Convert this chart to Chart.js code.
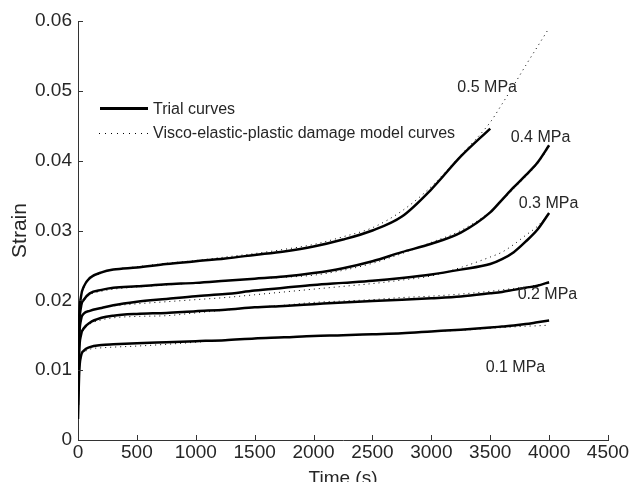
<!DOCTYPE html>
<html lang="en">
<head>
    <meta charset="UTF-8">
    <title>Creep strain curves</title>
    <script src="https://cdn.jsdelivr.net/npm/chart.js"></script>
    <style>
        body { margin: 0; background: #fff; }
        canvas { display: block; }
    </style>
</head>
<body>
    <canvas id="strainChart" width="632" height="482"></canvas>

    <script>
        // time grid (s) shared by all curves
        const timeGrid = [0, 10, 25, 50, 100, 200, 300, 500, 750, 1000, 1250, 1500, 1750, 2000,
                          2250, 2500, 2750, 3000, 3250, 3500, 3600, 3700, 3800, 3900, 4000];

        // trial curves (solid)
        const trial01 = [0.003, 0.0095, 0.0120, 0.0128, 0.0133, 0.0136, 0.0137, 0.01385, 0.0140, 0.01415, 0.0143, 0.01455, 0.0147,
                         0.0149, 0.0150, 0.01515, 0.0153, 0.01555, 0.0158, 0.0161, 0.01625, 0.0164, 0.0166, 0.01685, 0.0171];
        const trial02 = [0.005, 0.0125, 0.0150, 0.0160, 0.0168, 0.0175, 0.0178, 0.01805, 0.0182, 0.01845, 0.01865, 0.0190, 0.0192,
                         0.01945, 0.0197, 0.0199, 0.0201, 0.0203, 0.02055, 0.0210, 0.0212, 0.0215, 0.0218, 0.0221, 0.0226];
        const trial03 = [0.007, 0.0145, 0.0172, 0.0181, 0.0185, 0.0189, 0.0193, 0.0198, 0.0202, 0.0206, 0.0209, 0.0214, 0.0218,
                         0.0222, 0.0225, 0.0228, 0.0232, 0.0237, 0.0244, 0.0252, 0.0259, 0.0269, 0.0284, 0.0301, 0.0325];
        const trial04 = [0.008, 0.0160, 0.0190, 0.0201, 0.0210, 0.0215, 0.0218, 0.0220, 0.0223, 0.0225, 0.0228, 0.0231, 0.0234,
                         0.0239, 0.0246, 0.0256, 0.0269, 0.0281, 0.0297, 0.0326, 0.0344, 0.0362, 0.0379, 0.0397, 0.0422];
        const trial05 = [0.009, 0.0175, 0.0205, 0.0220, 0.0232, 0.0240, 0.0244, 0.0247, 0.0252, 0.0256, 0.0260, 0.0265, 0.0270,
                         0.0277, 0.0287, 0.0300, 0.0320, 0.0359, 0.0406, 0.0446];

        // visco-elastic-plastic damage model curves (dotted)
        const model01 = [0.003, 0.0095, 0.0118, 0.0125, 0.0130, 0.0132, 0.0133, 0.01345, 0.0137, 0.0140, 0.0143, 0.01455, 0.0147,
                         0.0149, 0.0150, 0.01515, 0.0153, 0.01555, 0.0157, 0.0160, 0.0161, 0.0162, 0.0163, 0.01635, 0.01645];
        const model02 = [0.005, 0.0125, 0.0148, 0.0158, 0.0166, 0.0172, 0.0175, 0.0177, 0.0178, 0.0182, 0.0186, 0.0190, 0.0193,
                         0.0197, 0.0199, 0.0201, 0.0204, 0.0206, 0.0209, 0.0213, 0.0215, 0.0217, 0.0219, 0.0222, 0.0225];
        const model03 = [0.007, 0.0145, 0.0170, 0.0180, 0.0185, 0.0189, 0.0192, 0.0195, 0.0198, 0.0201, 0.0204, 0.0208, 0.0212,
                         0.0216, 0.0220, 0.0224, 0.0229, 0.0235, 0.0247, 0.0262, 0.0269, 0.0280, 0.0293, 0.0306, 0.0325];
        const model04 = [0.008, 0.0158, 0.0188, 0.0199, 0.0208, 0.0213, 0.0216, 0.0219, 0.0222, 0.0225, 0.0228, 0.0231, 0.0233,
                         0.0236, 0.0243, 0.0253, 0.0267, 0.0283, 0.0300, 0.0327, 0.0343, 0.0360, 0.0377, 0.0395, 0.0420];
        const model05 = [0.009, 0.0175, 0.0203, 0.0218, 0.0230, 0.0239, 0.0244, 0.0248, 0.0253, 0.0257, 0.0262, 0.0267, 0.0273,
                         0.0280, 0.0291, 0.0304, 0.0328, 0.0363, 0.0408, 0.0455, 0.0481, 0.0508, 0.0536, 0.0563, 0.0590];

        // stress level labels, anchored in data coordinates
        const stressLabels = ['0.5 MPa', '0.4 MPa', '0.3 MPa', '0.2 MPa', '0.1 MPa'];
        const stressLabelX = [3474, 3927, 3995, 3986, 3714];
        const stressLabelY = [0.0504, 0.0433, 0.0338, 0.0208, 0.0103];

        const legendNames = ['Trial curves', 'Visco-elastic-plastic damage model curves'];

        const textColor = '#262626';
        const axisColor = '#333';

        function toPoints(values) {
            return values.map((v, i) => ({ x: timeGrid[i], y: v }));
        }

        function trialSet(values) {
            return { data: toPoints(values), borderColor: '#000', borderWidth: 2.5, pointRadius: 0, cubicInterpolationMode: 'monotone' };
        }

        function modelSet(values) {
            return { data: toPoints(values), borderColor: '#000', borderWidth: 1, borderDash: [1, 4], pointRadius: 0, cubicInterpolationMode: 'monotone' };
        }

        // inward ticks, legend and stress labels
        const extras = {
            id: 'extras',
            afterDraw(chart) {
                const { ctx, scales: { x, y } } = chart;
                ctx.save();
                ctx.strokeStyle = axisColor;
                ctx.lineWidth = 1;
                x.ticks.forEach(t => {
                    const px = Math.round(x.getPixelForValue(t.value)) + 0.5;
                    ctx.beginPath();
                    ctx.moveTo(px, y.bottom);
                    ctx.lineTo(px, y.bottom - 5);
                    ctx.stroke();
                });
                y.ticks.forEach(t => {
                    const py = Math.round(y.getPixelForValue(t.value)) + 0.5;
                    ctx.beginPath();
                    ctx.moveTo(x.left, py);
                    ctx.lineTo(x.left + 5, py);
                    ctx.stroke();
                });

                // legend
                ctx.strokeStyle = '#000';
                ctx.lineWidth = 3;
                ctx.beginPath();
                ctx.moveTo(100, 108.5);
                ctx.lineTo(148, 108.5);
                ctx.stroke();
                ctx.lineWidth = 1;
                ctx.setLineDash([1, 5]);
                ctx.beginPath();
                ctx.moveTo(99, 133.5);
                ctx.lineTo(149, 133.5);
                ctx.stroke();
                ctx.setLineDash([]);

                ctx.fillStyle = textColor;
                ctx.font = '16px "Liberation Sans", Arial, sans-serif';
                ctx.textBaseline = 'middle';
                ctx.textAlign = 'left';
                ctx.fillText(legendNames[0], 153, 110);
                ctx.fillText(legendNames[1], 153, 134);

                ctx.textAlign = 'center';
                stressLabels.forEach((label, i) => {
                    ctx.fillText(label, x.getPixelForValue(stressLabelX[i]), y.getPixelForValue(stressLabelY[i]));
                });
                ctx.restore();
            }
        };

        const tickFont = { family: '"Liberation Sans", Arial, sans-serif', size: 19 };

        new Chart(document.getElementById('strainChart').getContext('2d'), {
            type: 'line',
            data: {
                datasets: [
                    trialSet(trial05), trialSet(trial04), trialSet(trial03), trialSet(trial02), trialSet(trial01),
                    modelSet(model05), modelSet(model04), modelSet(model03), modelSet(model02), modelSet(model01)
                ]
            },
            options: {
                responsive: false,
                animation: false,
                layout: { padding: { top: 21, right: 24, bottom: 0, left: 0 } },
                plugins: { legend: { display: false }, tooltip: { enabled: false } },
                scales: {
                    x: {
                        type: 'linear',
                        min: 0,
                        max: 4500,
                        afterFit: s => { s.height = 42; },
                        grid: { display: false, drawTicks: false },
                        border: { display: true, color: axisColor, width: 1 },
                        ticks: { stepSize: 500, padding: 1, color: textColor, font: tickFont, maxRotation: 0,
                                 callback: v => String(v) },
                        title: {
                            display: true, text: 'Time (s)', color: textColor,
                            font: { family: tickFont.family, size: 19, lineHeight: '6px' },
                            padding: 0
                        }
                    },
                    y: {
                        min: 0,
                        max: 0.06,
                        afterFit: s => { s.width = 78; },
                        grid: { display: false, drawTicks: false },
                        border: { display: true, color: axisColor, width: 1 },
                        ticks: {
                            stepSize: 0.01, padding: 6, color: textColor, font: tickFont,
                            callback: v => v === 0 ? '0' : v.toFixed(2)
                        },
                        title: {
                            display: true, text: 'Strain', color: textColor,
                            font: { family: tickFont.family, size: 21 },
                            padding: { top: 8, bottom: 0 }
                        }
                    }
                }
            },
            plugins: [extras]
        });
    </script>
</body>
</html>
